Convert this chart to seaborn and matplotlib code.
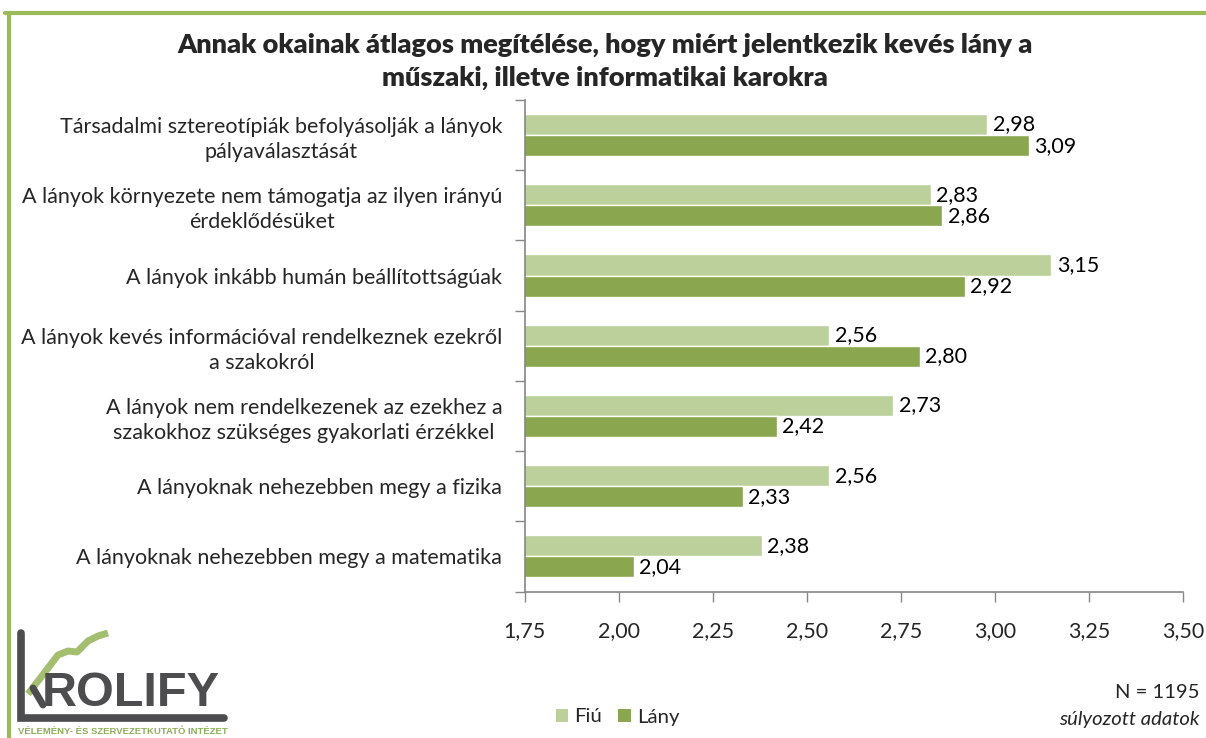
import matplotlib
matplotlib.use("Agg")
import matplotlib.pyplot as plt
import seaborn as sns
import pandas as pd
import numpy as np
from matplotlib.lines import Line2D
from matplotlib.patches import Patch

categories = [
    "Társadalmi sztereotípiák befolyásolják a lányok\npályaválasztását",
    "A lányok környezete nem támogatja az ilyen irányú\nérdeklődésüket",
    "A lányok inkább humán beállítottságúak",
    "A lányok kevés információval rendelkeznek ezekről\na szakokról",
    "A lányok nem rendelkezenek az ezekhez a\nszakokhoz szükséges gyakorlati érzékkel",
    "A lányoknak nehezebben megy a fizika",
    "A lányoknak nehezebben megy a matematika",
]
fiu = [2.98, 2.83, 3.15, 2.56, 2.73, 2.56, 2.38]
lany = [3.09, 2.86, 2.92, 2.80, 2.42, 2.33, 2.04]
series = ["Fiú", "Lány"]
xticks = [1.75, 2.00, 2.25, 2.50, 2.75, 3.00, 3.25, 3.50]
title = "Annak okainak átlagos megítélése, hogy miért jelentkezik kevés lány a\nműszaki, illetve informatikai karokra"

colors = {"Fiú": "#BBD09A", "Lány": "#8AA64F"}

df = pd.DataFrame({
    "cat": categories * 2,
    "val": fiu + lany,
    "ser": [series[0]] * len(categories) + [series[1]] * len(categories),
})

sns.set_theme(style="white")
FONT = ["Lato", "DejaVu Sans"]
plt.rcParams["font.family"] = FONT

W, H = 1206.0, 738.0
fig = plt.figure(figsize=(W / 100, H / 100), dpi=100)
left, right, top, bottom = 524.5 / W, 1183 / W, 1 - 100 / H, 1 - 591.5 / H
ax = fig.add_axes([left, bottom, right - left, top - bottom])

sns.barplot(data=df, y="cat", x="val", hue="ser", orient="h", palette=colors,
            width=0.6, gap=0, ax=ax, legend=False, saturation=1,
            order=categories, hue_order=series)

ax.set_xlim(1.75, 3.5)
ax.set_ylim(len(categories) - 0.5, -0.5)
ax.set_xlabel("")
ax.set_ylabel("")

for cont in ax.containers:
    labels = [f"{v:.2f}".replace(".", ",") for v in cont.datavalues]
    ax.bar_label(cont, labels=labels, padding=4, fontsize=15.5, color="#000000")

ax.set_xticks(xticks)
ax.set_xticklabels([f"{t:.2f}".replace(".", ",") for t in xticks], fontsize=15.5)
ax.tick_params(axis="x", which="major", length=7, width=1, color="#868686",
               direction="out", pad=14, bottom=True)
ax.set_yticks(range(len(categories)))
ax.set_yticklabels(categories, fontsize=15.5, ha="right", multialignment="center",
                   linespacing=1.3)
ax.tick_params(axis="y", which="major", length=0, pad=16)
ax.set_yticks(np.arange(-0.5, len(categories), 1), minor=True)
ax.tick_params(axis="y", which="minor", length=7, width=1, color="#868686",
               direction="out", left=True)

for s in ["top", "right"]:
    ax.spines[s].set_visible(False)
for s in ["left", "bottom"]:
    ax.spines[s].set_color("#868686")
    ax.spines[s].set_linewidth(1.2)

fig.text(0.502, 1 - 33 / H, title, ha="center", va="top", fontsize=19.5,
         fontweight="heavy", linespacing=1.42)

# legend
handles = [Patch(facecolor=colors[s], edgecolor="none") for s in series]
fig.legend(handles, series, loc="center", bbox_to_anchor=(0.512, 1 - 717 / H), ncol=2,
           frameon=False, fontsize=14.7, handlelength=0.6, handleheight=0.6,
           handletextpad=0.3, columnspacing=0.8)

fig.text(0.995, 1 - 693 / H, "N = 1195", ha="right", va="center", fontsize=14.6)
fig.text(0.995, 1 - 719 / H, "súlyozott adatok", ha="right", va="center",
         fontsize=14.6, style="italic")

# frame
green = "#9BBB59"
fig.add_artist(Line2D([5 / W, 1], [1 - 13 / H] * 2, color=green, lw=3,
                      transform=fig.transFigure))
fig.add_artist(Line2D([9 / W] * 2, [0, 1 - 13 / H], color=green, lw=3,
                      transform=fig.transFigure))

# logo
def P(x, y):
    return x / W, 1 - y / H
gray = "#4D4D4F"
lx, ly = zip(P(21, 633), P(21, 718), P(224, 718))
fig.add_artist(Line2D(lx, ly, color=gray, lw=5.5,
                      transform=fig.transFigure, solid_joinstyle="miter"))
gx = [28, 45, 58, 68, 77, 88, 98, 108]
gy = [694, 672, 655, 651, 652, 641, 636, 633]
fig.add_artist(Line2D([g / W for g in gx], [1 - g / H for g in gy], color="#A3BE6E",
                      lw=5, transform=fig.transFigure, solid_capstyle="butt"))
kx, ky = zip(P(33, 688), P(43, 705))
fig.add_artist(Line2D(kx, ky, color=gray, lw=5, transform=fig.transFigure))
fig.text(*P(42, 706), "ROLIFY", ha="left", va="baseline", fontsize=35,
         fontweight="bold", color=gray, family=["Liberation Sans", "DejaVu Sans"])
fig.text(*P(18, 731), "VÉLEMÉNY- ÉS SZERVEZETKUTATÓ INTÉZET", ha="left",
         va="center", fontsize=6.8, color="#8DAE5A", fontweight="bold",
         family=["Liberation Sans", "DejaVu Sans"])

fig.savefig("out.png", dpi=100)
